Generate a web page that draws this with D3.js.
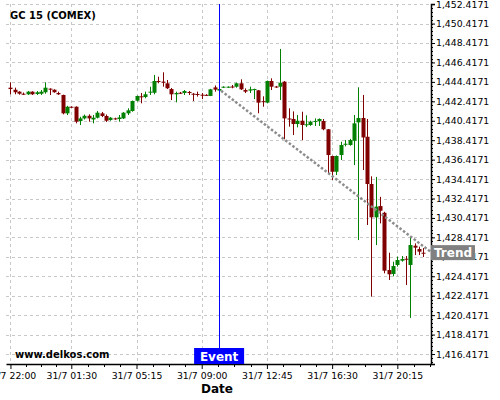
<!DOCTYPE html>
<html>
<head>
<meta charset="utf-8">
<script src="https://cdn.jsdelivr.net/npm/d3@7"></script>
<style>
  body { margin: 0; background: #fff; }
  text { font-family: "DejaVu Sans", sans-serif; }
</style>
</head>
<body>
<script>
// 15 minute candles, GC 15 (COMEX), 30/7 22:00 -> 31/7 21:45
var firstCandle = new Date(Date.UTC(2015, 6, 30, 22, 0)),
    stepMinutes = 15;

var openPrices = [
  1443.82, 1443.61, 1443.41, 1443.20, 1443.14, 1443.41, 1443.17, 1443.20, 1443.35, 1443.72,
  1443.61, 1443.27, 1443.07, 1441.18, 1441.86, 1441.86, 1440.39, 1440.66, 1440.93, 1440.55,
  1440.73, 1441.18, 1440.91, 1440.49, 1440.66, 1440.60, 1440.66, 1441.18, 1441.42, 1442.48,
  1442.93, 1442.86, 1443.35, 1443.30, 1444.51, 1444.44, 1444.27, 1443.68, 1443.14, 1443.30,
  1443.27, 1443.38, 1443.20, 1443.17, 1443.10, 1443.08, 1442.97, 1443.85, 1443.52, 1443.82,
  1443.85, 1443.94, 1443.92, 1444.27, 1443.58, 1443.52, 1443.62, 1443.55, 1442.43, 1442.28,
  1444.51, 1443.94, 1443.92, 1444.44, 1440.65, 1440.60, 1440.08, 1440.42, 1439.98, 1439.98,
  1440.35, 1440.39, 1440.39, 1439.54, 1436.79, 1435.17, 1436.89, 1437.98, 1437.92, 1438.36,
  1440.25, 1440.70, 1438.77, 1433.91, 1430.48, 1431.64, 1430.95, 1425.06, 1424.65, 1425.58,
  1426.02, 1426.22, 1425.58, 1427.56, 1427.22, 1426.84
];
var highPrices = [
  1444.37, 1443.82, 1443.45, 1443.32, 1443.48, 1443.45, 1443.48, 1443.58, 1444.37, 1443.75,
  1443.65, 1443.41, 1443.10, 1441.95, 1441.90, 1441.90, 1440.83, 1441.05, 1441.08, 1441.01,
  1441.42, 1441.32, 1441.06, 1440.80, 1440.73, 1441.01, 1441.30, 1441.70, 1442.50, 1443.00,
  1443.27, 1443.41, 1443.92, 1445.13, 1444.95, 1445.40, 1444.61, 1443.79, 1443.41, 1443.38,
  1443.58, 1443.48, 1443.27, 1443.41, 1443.27, 1443.15, 1443.70, 1444.05, 1443.72, 1443.96,
  1443.96, 1444.10, 1444.33, 1444.68, 1443.75, 1443.92, 1443.72, 1443.58, 1442.93, 1444.55,
  1444.78, 1444.00, 1447.80, 1444.50, 1441.70, 1441.38, 1441.01, 1441.35, 1440.98, 1440.42,
  1440.66, 1440.66, 1440.60, 1439.57, 1436.82, 1436.85, 1438.26, 1438.43, 1438.55, 1441.01,
  1443.86, 1443.07, 1440.60, 1434.70, 1434.63, 1432.59, 1431.05, 1426.84, 1425.92, 1426.43,
  1426.50, 1426.50, 1428.48, 1427.80, 1427.46, 1427.32
];
var lowPrices = [
  1443.14, 1443.14, 1443.10, 1443.07, 1443.07, 1443.07, 1443.07, 1443.07, 1443.20, 1443.07,
  1443.30, 1443.07, 1441.08, 1441.01, 1441.75, 1440.15, 1439.98, 1440.55, 1440.32, 1440.15,
  1440.66, 1440.80, 1440.29, 1440.42, 1440.52, 1440.32, 1440.60, 1441.01, 1441.35, 1442.40,
  1442.21, 1442.73, 1443.07, 1443.14, 1444.27, 1443.92, 1443.68, 1442.55, 1442.31, 1443.17,
  1443.07, 1443.07, 1442.45, 1442.90, 1442.65, 1442.98, 1442.95, 1443.41, 1443.48, 1443.80,
  1443.82, 1443.76, 1443.82, 1443.58, 1443.27, 1443.27, 1442.65, 1441.18, 1441.86, 1442.21,
  1443.58, 1443.80, 1442.55, 1438.51, 1439.81, 1438.95, 1439.74, 1438.43, 1439.77, 1439.90,
  1439.88, 1439.88, 1439.44, 1435.04, 1434.32, 1434.83, 1436.38, 1437.78, 1437.85, 1435.86,
  1428.14, 1435.35, 1429.69, 1422.32, 1427.63, 1429.86, 1424.72, 1424.04, 1424.41, 1425.41,
  1425.92, 1423.52, 1420.13, 1426.60, 1426.60, 1426.40
];
var closePrices = [
  1443.68, 1443.35, 1443.20, 1443.17, 1443.41, 1443.14, 1443.35, 1443.41, 1443.82, 1443.68,
  1443.35, 1443.14, 1441.18, 1441.86, 1441.80, 1440.32, 1440.66, 1440.93, 1440.66, 1440.73,
  1441.25, 1440.91, 1440.42, 1440.73, 1440.60, 1440.76, 1441.25, 1441.49, 1442.45, 1442.97,
  1442.88, 1443.14, 1443.41, 1444.51, 1444.45, 1444.33, 1443.76, 1443.14, 1443.27, 1443.25,
  1443.48, 1443.27, 1443.15, 1443.12, 1443.05, 1443.04, 1443.65, 1443.62, 1443.68, 1443.92,
  1443.92, 1443.90, 1444.27, 1443.65, 1443.41, 1443.65, 1443.68, 1442.28, 1442.38, 1444.51,
  1443.92, 1443.90, 1444.33, 1440.66, 1440.60, 1440.08, 1440.42, 1439.98, 1440.05, 1440.32,
  1440.40, 1440.60, 1439.54, 1436.89, 1435.17, 1436.79, 1437.92, 1438.05, 1438.43, 1440.15,
  1440.70, 1438.70, 1433.91, 1430.48, 1431.58, 1431.16, 1424.99, 1424.62, 1425.47, 1426.09,
  1426.19, 1426.17, 1427.63, 1427.36, 1426.95, 1426.79
];

// axis ticks
var xTickTimes = [
  Date.UTC(2015, 6, 30, 22, 0), Date.UTC(2015, 6, 31, 1, 30), Date.UTC(2015, 6, 31, 5, 15),
  Date.UTC(2015, 6, 31, 9, 0), Date.UTC(2015, 6, 31, 12, 45), Date.UTC(2015, 6, 31, 16, 30),
  Date.UTC(2015, 6, 31, 20, 15)
].map(function(t) { return new Date(t); });
var yTickValues = [1416.4171, 1418.4171, 1420.4171, 1422.4171, 1424.4171, 1426.4171, 1428.4171,
  1430.4171, 1432.4171, 1434.4171, 1436.4171, 1438.4171, 1440.4171, 1442.4171, 1444.4171,
  1446.4171, 1448.4171, 1450.4171, 1452.4171];

// event + trend
var eventTime = new Date(Date.UTC(2015, 6, 31, 10, 0));
var trendStart = 1443.5, trendEnd = 1426.9;

var width = 500, height = 400,
    plotLeft = 6, plotRight = 431, plotTop = 4, plotBottom = 364;

var x = d3.scaleUtc()
    .domain([new Date(Date.UTC(2015, 6, 30, 21, 44, 40)), new Date(Date.UTC(2015, 6, 31, 22, 11, 10))])
    .range([plotLeft, plotRight]);
var y = d3.scaleLinear()
    .domain([1415.39, 1452.43])
    .range([plotBottom, plotTop]);

var candles = openPrices.map(function(o, i) {
  return {t: new Date(+firstCandle + i * stepMinutes * 60000), o: o,
          h: highPrices[i], l: lowPrices[i], c: closePrices[i]};
});

var svg = d3.select("body").append("svg")
    .attr("width", width)
    .attr("height", height);

svg.append("rect").attr("width", width).attr("height", height).attr("fill", "#fff");

// grid
svg.append("g").selectAll("line")
    .data(yTickValues)
  .enter().append("line")
    .attr("x1", plotLeft).attr("x2", plotRight)
    .attr("y1", function(d) { return Math.round(y(d)) + 0.5; })
    .attr("y2", function(d) { return Math.round(y(d)) + 0.5; })
    .attr("stroke", "#c8c8c8").attr("stroke-dasharray", "3,3");
svg.append("g").selectAll("line")
    .data(xTickTimes)
  .enter().append("line")
    .attr("y1", plotTop).attr("y2", plotBottom)
    .attr("x1", function(d) { return Math.round(x(d)) + 0.5; })
    .attr("x2", function(d) { return Math.round(x(d)) + 0.5; })
    .attr("stroke", "#c8c8c8").attr("stroke-dasharray", "3,3");

// candles
var bodyW = 4;
var cg = svg.append("g").selectAll("g")
    .data(candles)
  .enter().append("g")
    .attr("fill", function(d) { return d.c >= d.o ? "#008000" : "#800000"; })
    .attr("stroke", function(d) { return d.c >= d.o ? "#008000" : "#800000"; });
cg.append("line")
    .attr("x1", function(d) { return Math.round(x(d.t)) + 0.5; })
    .attr("x2", function(d) { return Math.round(x(d.t)) + 0.5; })
    .attr("y1", function(d) { return y(d.h); })
    .attr("y2", function(d) { return y(d.l); });
cg.append("rect")
    .attr("stroke", "none")
    .attr("x", function(d) { return Math.round(x(d.t)) - bodyW / 2 + 0.5; })
    .attr("width", bodyW)
    .attr("y", function(d) { return y(Math.max(d.o, d.c)); })
    .attr("height", function(d) { return Math.max(1, Math.abs(y(d.o) - y(d.c))); });

// trend line
svg.append("line")
    .attr("x1", x(eventTime) + 2).attr("y1", y(trendStart))
    .attr("x2", plotRight).attr("y2", y(trendEnd))
    .attr("stroke", "#8c8c8c").attr("stroke-width", 2.5)
    .attr("stroke-dasharray", "2.5,2");

// event line
svg.append("line")
    .attr("x1", Math.round(x(eventTime)) + 0.5).attr("x2", Math.round(x(eventTime)) + 0.5)
    .attr("y1", plotTop).attr("y2", plotBottom)
    .attr("stroke", "#0000ff");

// axes
var minorX = [];
for (var k = 0; k < xTickTimes.length; k++) {
  var a = +xTickTimes[k],
      b = k + 1 < xTickTimes.length ? +xTickTimes[k + 1] : a + (a - xTickTimes[k - 1]);
  for (var q = 1; q < 4; q++) minorX.push(new Date(a + (b - a) * q / 4));
}
minorX = minorX.filter(function(d) { return x(d) <= plotRight; });

var xAxis = svg.append("g")
    .attr("transform", "translate(0," + plotBottom + ")")
    .call(d3.axisBottom(x).tickValues(xTickTimes).tickSize(5).tickSizeOuter(0)
      .tickFormat(d3.utcFormat("%-d/%-m %H:%M")));
xAxis.select(".domain").attr("stroke-width", 1.5);
xAxis.selectAll("text").attr("font-size", "9.3px").attr("fill", "#000");
xAxis.selectAll("text").filter(function(d, i) { return i === 0; }).text("30/7 22:00");
svg.append("g").selectAll("line")
    .data(minorX)
  .enter().append("line")
    .attr("x1", function(d) { return Math.round(x(d)) + 0.5; })
    .attr("x2", function(d) { return Math.round(x(d)) + 0.5; })
    .attr("y1", plotBottom).attr("y2", plotBottom + 3)
    .attr("stroke", "#000");

var minorY = [];
for (var v = 1415.6171; v < 1452.43; v += 0.4) minorY.push(v);

var yAxis = svg.append("g")
    .attr("transform", "translate(" + plotRight + ",0)")
    .call(d3.axisRight(y).tickValues(yTickValues).tickSize(4).tickSizeOuter(4)
      .tickFormat(d3.format(",.4f")));
yAxis.select(".domain").attr("stroke-width", 1.5);
yAxis.selectAll("text").attr("font-size", "9.3px").attr("fill", "#000").attr("x", 5);
svg.append("g").selectAll("line")
    .data(minorY)
  .enter().append("line")
    .attr("x1", plotRight).attr("x2", plotRight + 2)
    .attr("y1", function(d) { return Math.round(y(d)) + 0.5; })
    .attr("y2", function(d) { return Math.round(y(d)) + 0.5; })
    .attr("stroke", "#000");

// labels
svg.append("text")
    .attr("x", 10).attr("y", 19)
    .attr("font-size", "10px").attr("font-weight", "bold")
    .text("GC 15 (COMEX)");

svg.append("text")
    .attr("x", 15).attr("y", 358)
    .attr("font-size", "10px").attr("font-weight", "bold")
    .text("www.delkos.com");

svg.append("text")
    .attr("x", 217).attr("y", 393)
    .attr("text-anchor", "middle")
    .attr("font-size", "12px").attr("font-weight", "bold")
    .text("Date");

var ex = x(eventTime);
svg.append("rect")
    .attr("x", ex - 25).attr("y", plotBottom - 16)
    .attr("width", 50).attr("height", 16)
    .attr("fill", "#0000ff");
svg.append("text")
    .attr("x", ex).attr("y", plotBottom - 3)
    .attr("text-anchor", "middle")
    .attr("font-size", "12px").attr("font-weight", "bold").attr("fill", "#fff")
    .text("Event");

var ty = y(trendEnd);
svg.append("rect")
    .attr("x", plotRight).attr("y", ty - 7)
    .attr("width", 44).attr("height", 15)
    .attr("fill", "#808080");
svg.append("text")
    .attr("x", plotRight + 22).attr("y", ty + 5)
    .attr("text-anchor", "middle")
    .attr("font-size", "12px").attr("font-weight", "bold").attr("fill", "#fff")
    .text("Trend");
</script>
</body>
</html>
